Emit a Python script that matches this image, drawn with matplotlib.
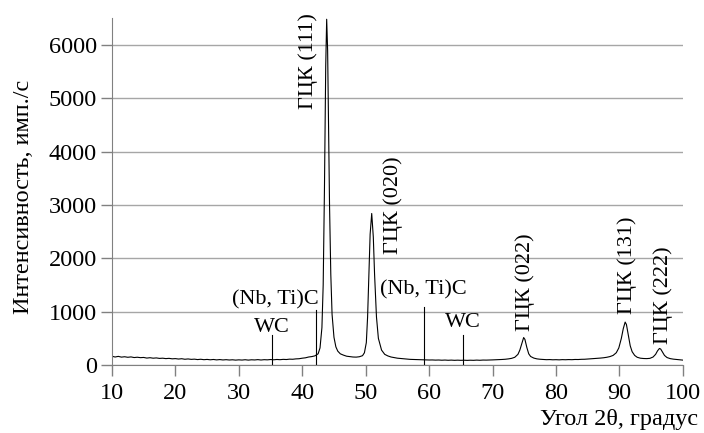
import matplotlib
matplotlib.use('Agg')
import matplotlib.pyplot as plt

plt.rcParams['font.family'] = ['Liberation Serif', 'DejaVu Serif']

# дифрактограмма: угол 2θ и интенсивность
two_theta = [
    10, 10.5, 11, 11.5, 12, 12.5, 13, 13.5, 14, 14.5, 15, 15.5, 16, 16.5, 17, 17.5,
    18, 18.5, 19, 19.5, 20, 20.5, 21, 21.5, 22, 22.5, 23, 23.5, 24, 24.5, 25, 25.5,
    26, 26.5, 27, 27.5, 28, 28.5, 29, 29.5, 30, 30.5, 31, 31.5, 32, 32.5, 33, 33.5,
    34, 34.5, 35, 35.5, 36, 36.5, 37, 37.5, 38, 38.5, 39, 39.5, 40, 40.5, 41, 41.5,
    42, 42.5, 42.8, 43.1, 43.3, 43.5, 43.7, 43.85, 44.0, 44.15, 44.3, 44.5, 44.7,
    45.0, 45.3, 45.6, 46, 46.5, 47, 47.5, 48, 48.5, 49, 49.5, 49.8, 50.1, 50.3,
    50.5, 50.7, 50.95, 51.2, 51.4, 51.7, 52.0, 52.5, 53, 53.5, 54, 54.5, 55, 55.5,
    56, 56.5, 57, 57.5, 58, 58.5, 59, 59.5, 60, 60.5, 61, 61.5, 62, 62.5, 63, 63.5,
    64, 64.5, 65, 65.5, 66, 66.5, 67, 67.5, 68, 68.5, 69, 69.5, 70, 70.5, 71, 71.5,
    72, 72.5, 73, 73.5, 74, 74.3, 74.6, 74.9, 75.1, 75.4, 75.7, 76, 76.5, 77, 77.5,
    78, 78.5, 79, 79.5, 80, 80.5, 81, 81.5, 82, 82.5, 83, 83.5, 84, 84.5, 85, 85.5,
    86, 86.5, 87, 87.5, 88, 88.5, 89, 89.5, 89.9, 90.3, 90.6, 90.9, 91.1, 91.4,
    91.7, 92.0, 92.4, 92.8, 93.3, 93.8, 94.3, 94.8, 95.3, 95.7, 96.0, 96.3, 96.5,
    96.8, 97.1, 97.5, 98, 98.5, 99, 99.5, 100,
]
intensity = [
    165, 150, 162, 148, 155, 145, 152, 140, 146, 138, 142, 130, 137, 128, 133, 124,
    128, 120, 125, 116, 120, 112, 118, 108, 114, 106, 110, 102, 108, 100, 105, 98,
    104, 96, 102, 95, 100, 94, 98, 92, 97, 93, 99, 92, 98, 95, 101, 94,
    100, 97, 103, 98, 104, 100, 106, 103, 110, 108, 115, 118, 128, 135, 150, 158,
    172, 210, 320, 700, 1500, 3300, 5600, 6480, 5900, 4500, 3000, 1700, 950,
    520, 340, 260, 210, 185, 165, 158, 150, 148, 155, 175, 230, 420, 900,
    1650, 2450, 2840, 2400, 1700, 900, 500, 280, 200, 170, 150, 138, 128, 122,
    115, 112, 106, 104, 100, 98, 96, 97, 94, 95, 92, 94, 90, 93, 89, 92,
    88, 91, 88, 90, 87, 90, 88, 92, 89, 93, 92, 95, 96, 98, 100, 104,
    108, 115, 125, 145, 200, 280, 400, 515, 480, 330, 210, 160, 130, 115, 108,
    104, 100, 102, 98, 100, 97, 101, 99, 102, 100, 104, 103, 107, 108, 112, 116,
    120, 124, 130, 136, 145, 158, 180, 230, 320, 500, 680, 805, 760, 560,
    360, 250, 180, 145, 128, 122, 120, 125, 150, 200, 265, 310, 300,
    240, 180, 140, 120, 110, 104, 98, 92,
]

# отметки фаз (положение, высота черты)
marker_pos = [35.2, 42.2, 59.2, 65.4]
marker_top = [560, 1030, 1090, 560]
marker_text = ['WC', '(Nb, Ti)C', '(Nb, Ti)C', 'WC']
marker_text_x = [35.2, 35.8, 59.1, 65.4]
marker_text_y = [710, 1220, 1400, 790]

# подписи пиков ГЦК
peak_text = ['ГЦК (111)', 'ГЦК (020)', 'ГЦК (022)', 'ГЦК (131)', 'ГЦК (222)']
peak_text_x = [40.9, 54.3, 75.1, 91.2, 96.9]
peak_text_y = [5690, 3000, 1550, 1870, 1300]

fig = plt.figure(figsize=(7.04, 4.33), dpi=100)
ax = fig.add_axes([0.159, 0.157, 0.811, 0.801])

ax.grid(axis='y', color='#a6a6a6', lw=1.0)
ax.set_axisbelow(True)
ax.plot(two_theta, intensity, color='black', lw=0.8)

for x0, top in zip(marker_pos, marker_top):
    ax.plot([x0, x0], [0, top], color='black', lw=0.8)
for t, x0, y0 in zip(marker_text, marker_text_x, marker_text_y):
    ax.text(x0, y0, t, ha='center', va='center', fontsize=16)
for t, x0, y0 in zip(peak_text, peak_text_x, peak_text_y):
    ax.text(x0, y0, t, ha='center', va='center', rotation=90, fontsize=16)

ax.set_xlim(10, 100)
ax.set_ylim(0, 6500)
ax.set_xticks(range(10, 101, 10))
ax.set_yticks(range(0, 6001, 1000))
ax.tick_params(direction='out', length=8, width=1, color='#808080', labelsize=17.5)
ax.tick_params(axis='x', pad=5)
ax.tick_params(axis='y', pad=3)

for side in ['top', 'right']:
    ax.spines[side].set_visible(False)
for side in ['left', 'bottom']:
    ax.spines[side].set_color('#808080')

ax.set_ylabel('Интенсивность, имп./с', fontsize=17.5)
ax.yaxis.set_label_coords(-0.137, 0.484)
fig.text(0.992, 0.008, 'Угол 2θ, градус', ha='right', va='bottom', fontsize=17.5)

fig.savefig('out.png', dpi=100)
